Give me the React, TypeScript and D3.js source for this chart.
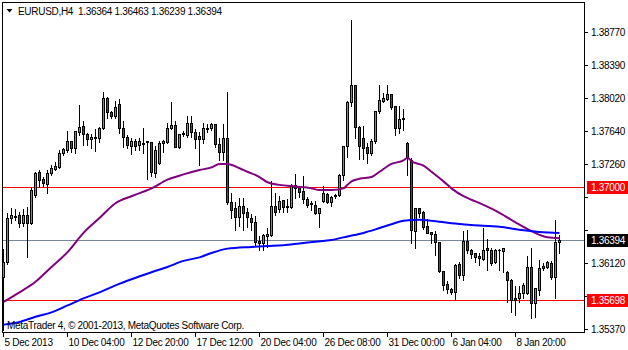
import React from "react";
import * as d3 from "d3";

// OHLC data (EURUSD H4), one entry per bar
const opens = [
  1.3596, 1.3614, 1.3664, 1.3666, 1.3667, 1.3658, 1.3668, 1.3658, 1.3690, 1.3717,
  1.3709, 1.3703, 1.3716, 1.3720, 1.3722, 1.3738, 1.3742, 1.3752, 1.3744, 1.3762,
  1.3769, 1.3760, 1.3755, 1.3757, 1.3756, 1.3767, 1.3801, 1.3785, 1.3781, 1.3795,
  1.3767, 1.3757, 1.3747, 1.3752, 1.3748, 1.3749, 1.3751, 1.3751, 1.3716, 1.3727,
  1.3750, 1.3751, 1.3767, 1.3771, 1.3745, 1.3760, 1.3759, 1.3773, 1.3762, 1.3758,
  1.3754, 1.3767, 1.3767, 1.3772, 1.3749, 1.3740, 1.3756, 1.3682, 1.3676, 1.3665,
  1.3678, 1.3671, 1.3664, 1.3659, 1.3638, 1.3636, 1.3643, 1.3645, 1.3678, 1.3674,
  1.3685, 1.3677, 1.3677, 1.3702, 1.3698, 1.3695, 1.3686, 1.3680, 1.3679, 1.3670,
  1.3683, 1.3691, 1.3682, 1.3689, 1.3690, 1.3713, 1.3746, 1.3797, 1.3816, 1.3768,
  1.3756, 1.3745, 1.3738, 1.3752, 1.3787, 1.3798, 1.3800, 1.3806, 1.3792, 1.3767,
  1.3777, 1.3750, 1.3730, 1.3649, 1.3676, 1.3671, 1.3655, 1.3648, 1.3646, 1.3637,
  1.3603, 1.3589, 1.3583, 1.3579, 1.3611, 1.3599, 1.3638, 1.3627, 1.3624, 1.3620,
  1.3617, 1.3630, 1.3628, 1.3614, 1.3627, 1.3626, 1.3602, 1.3593, 1.3573, 1.3573,
  1.3578, 1.3578, 1.3608, 1.3567, 1.3582, 1.3607, 1.3608, 1.3613, 1.3597, 1.36364,
];
const highs = [
  1.3630, 1.3671, 1.3677, 1.3675, 1.3672, 1.3675, 1.3678, 1.3701, 1.3718, 1.3720,
  1.3712, 1.3720, 1.3726, 1.3729, 1.3743, 1.3745, 1.3765, 1.3753, 1.3765, 1.3795,
  1.3776, 1.3762, 1.3761, 1.3767, 1.3769, 1.3809, 1.3804, 1.3788, 1.3799, 1.3802,
  1.3776, 1.3760, 1.3757, 1.3756, 1.3757, 1.3768, 1.3753, 1.3752, 1.3748, 1.3753,
  1.3754, 1.3774, 1.3798, 1.3776, 1.3761, 1.3765, 1.3782, 1.3782, 1.3767, 1.3764,
  1.3774, 1.3773, 1.3774, 1.3773, 1.3757, 1.3773, 1.3809, 1.3694, 1.3683, 1.3688,
  1.3688, 1.3677, 1.3670, 1.3667, 1.3645, 1.3647, 1.3654, 1.3707, 1.3694, 1.3690,
  1.3686, 1.3687, 1.3704, 1.3716, 1.3702, 1.3713, 1.3689, 1.3685, 1.3685, 1.3677,
  1.3702, 1.3694, 1.3690, 1.3693, 1.3716, 1.3748, 1.3799, 1.3892, 1.3818, 1.3771,
  1.3771, 1.3751, 1.3756, 1.3788, 1.3818, 1.3808, 1.3818, 1.3806, 1.3793, 1.3793,
  1.3790, 1.3752, 1.3734, 1.3677, 1.3676, 1.3673, 1.3664, 1.3648, 1.3650, 1.3638,
  1.3605, 1.3593, 1.3585, 1.3613, 1.3615, 1.3650, 1.3652, 1.3630, 1.3625, 1.3625,
  1.3654, 1.3641, 1.3631, 1.3630, 1.3630, 1.3631, 1.3605, 1.3595, 1.3587, 1.3587,
  1.3591, 1.3622, 1.3631, 1.3585, 1.3617, 1.3614, 1.3616, 1.3616, 1.3663, 1.36463,
];
const lows = [
  1.3536, 1.3611, 1.3658, 1.3662, 1.3654, 1.3655, 1.3619, 1.3657, 1.3688, 1.3700,
  1.3700, 1.3693, 1.3713, 1.3719, 1.3721, 1.3736, 1.3740, 1.3740, 1.3738, 1.3759,
  1.3748, 1.3748, 1.3744, 1.3741, 1.3751, 1.3766, 1.3778, 1.3778, 1.3778, 1.3761,
  1.3745, 1.3744, 1.3737, 1.3742, 1.3742, 1.3738, 1.3709, 1.3712, 1.3711, 1.3726,
  1.3740, 1.3750, 1.3766, 1.3745, 1.3744, 1.3758, 1.3757, 1.3757, 1.3744, 1.3725,
  1.3750, 1.3762, 1.3765, 1.3745, 1.3730, 1.3730, 1.3680, 1.3664, 1.3650, 1.3655,
  1.3650, 1.3654, 1.3650, 1.3633, 1.3627, 1.3627, 1.3631, 1.3643, 1.3667, 1.3671,
  1.3671, 1.3671, 1.3676, 1.3687, 1.3688, 1.3681, 1.3677, 1.3673, 1.3669, 1.3654,
  1.3682, 1.3681, 1.3678, 1.3687, 1.3689, 1.3707, 1.3734, 1.3792, 1.3756, 1.3732,
  1.3732, 1.3727, 1.3736, 1.3750, 1.3784, 1.3797, 1.3799, 1.3789, 1.3759, 1.3761,
  1.3765, 1.3713, 1.3635, 1.3630, 1.3665, 1.3651, 1.3647, 1.3635, 1.3622, 1.3602,
  1.3582, 1.3578, 1.3577, 1.3570, 1.3595, 1.3593, 1.3624, 1.3618, 1.3614, 1.3610,
  1.3616, 1.3605, 1.3610, 1.3612, 1.3605, 1.3602, 1.3568, 1.3556, 1.3553, 1.3568,
  1.3573, 1.3577, 1.3550, 1.3551, 1.3576, 1.3605, 1.3607, 1.3594, 1.3573, 1.36239,
];
const closes = [
  1.3614, 1.3664, 1.3667, 1.3665, 1.3658, 1.3668, 1.3658, 1.3696, 1.3716, 1.3707,
  1.3704, 1.3716, 1.3721, 1.3724, 1.3738, 1.3743, 1.3752, 1.3744, 1.3764, 1.3768,
  1.3760, 1.3755, 1.3757, 1.3756, 1.3767, 1.3801, 1.3785, 1.3781, 1.3791, 1.3767,
  1.3757, 1.3748, 1.3752, 1.3747, 1.3752, 1.3750, 1.3752, 1.3717, 1.3742, 1.3750,
  1.3752, 1.3767, 1.3771, 1.3745, 1.3760, 1.3761, 1.3773, 1.3762, 1.3754, 1.3754,
  1.3767, 1.3766, 1.3772, 1.3749, 1.3740, 1.3756, 1.3682, 1.3673, 1.3665, 1.3678,
  1.3670, 1.3665, 1.3659, 1.3637, 1.3636, 1.3645, 1.3646, 1.3678, 1.3671, 1.3683,
  1.3677, 1.3678, 1.3702, 1.3698, 1.3694, 1.3686, 1.3679, 1.3681, 1.3670, 1.3676,
  1.3693, 1.3682, 1.3688, 1.3690, 1.3713, 1.3746, 1.3797, 1.3816, 1.3768, 1.3746,
  1.3744, 1.3738, 1.3752, 1.3787, 1.3799, 1.3801, 1.3806, 1.3791, 1.3767, 1.3777,
  1.3778, 1.3734, 1.3650, 1.3676, 1.3670, 1.3654, 1.3647, 1.3646, 1.3637, 1.3603,
  1.3587, 1.3583, 1.3579, 1.3610, 1.3599, 1.3638, 1.3627, 1.3623, 1.3619, 1.3618,
  1.3628, 1.3627, 1.3612, 1.3627, 1.3628, 1.3630, 1.3593, 1.3570, 1.3570, 1.3578,
  1.3587, 1.3608, 1.3567, 1.3584, 1.3607, 1.3609, 1.3614, 1.3597, 1.3637, 1.36394,
];

// Moving averages read at selected bars
const maPurpleIdx = [0, 4, 8, 12, 16, 20, 24, 28, 32, 37, 41, 45, 49, 52, 54, 56, 59, 61, 64, 66, 69, 73, 77, 79, 82, 85, 86, 87, 89, 92, 94, 97, 100, 101, 102, 105, 107, 110, 112, 115, 117, 120, 124, 128, 132, 136, 139];
const maPurpleVals = [1.3568, 1.3579, 1.3591, 1.3608, 1.3625, 1.3647, 1.3664, 1.3681, 1.3689, 1.3698, 1.3708, 1.3714, 1.3719, 1.3722, 1.3726, 1.3726, 1.3721, 1.3717, 1.3711, 1.3705, 1.3702, 1.3700, 1.3698, 1.3696, 1.3696, 1.3698, 1.3702, 1.3706, 1.3709, 1.3711, 1.3717, 1.3726, 1.3730, 1.3733, 1.3729, 1.3724, 1.3717, 1.3706, 1.3698, 1.3689, 1.3685, 1.3679, 1.3670, 1.3659, 1.3649, 1.3642, 1.3641];
const maBlueIdx = [0, 4, 8, 12, 16, 20, 24, 28, 32, 37, 41, 45, 49, 52, 56, 62, 66, 70, 74, 78, 82, 86, 90, 93, 97, 100, 104, 107, 112, 117, 124, 130, 134, 139];
const maBlueVals = [1.3542, 1.3545, 1.3551, 1.3556, 1.3564, 1.3572, 1.3579, 1.3587, 1.3594, 1.3602, 1.3608, 1.3615, 1.3619, 1.3624, 1.3629, 1.3631, 1.3632, 1.3633, 1.3635, 1.3637, 1.3639, 1.3643, 1.3647, 1.3651, 1.3657, 1.3661, 1.3662, 1.3661, 1.3658, 1.3656, 1.3654, 1.3650, 1.3648, 1.3647];

const yTicks = [1.3877, 1.3839, 1.3802, 1.3764, 1.3726, 1.3688, 1.365, 1.3612, 1.3575, 1.3537];
const xTickIdx = [0, 16, 32, 48, 64, 80, 96, 112, 128];
const xTickLabels = ["5 Dec 2013", "10 Dec 04:00", "12 Dec 20:00", "17 Dec 12:00", "20 Dec 04:00", "26 Dec 08:00", "31 Dec 00:00", "6 Jan 04:00", "8 Jan 20:00"];
const redLevels = [1.37, 1.35698];
const bidLevel = 1.36394;
const headerText = "EURUSD,H4  1.36364 1.36463 1.36239 1.36394";
const copyright = "MetaTrader 4, \u00A9 2001-2013, MetaQuotes Software Corp.";

const W = 628;
const H = 350;
const L = 2.5, R = 584.5, T = 2.5, B = 332.5;
const FONT = "'Liberation Sans', Arial, sans-serif";

export default function App() {
  const x = d3.scaleLinear().domain([0, 139]).range([3.5, 559.5]);
  const y = d3.scaleLinear().domain([1.3537, 1.3877]).range([329, 32]);
  const py = (v: number) => Math.round(y(v)) + 0.5;

  const line = d3
    .line<[number, number]>()
    .x((d) => x(d[0]))
    .y((d) => y(d[1]))
    .curve(d3.curveMonotoneX);

  const purplePath = line(maPurpleIdx.map((d, k) => [d, maPurpleVals[k]] as [number, number])) || "";
  const bluePath = line(maBlueIdx.map((d, k) => [d, maBlueVals[k]] as [number, number])) || "";

  const fmt = d3.format(".5f");
  const txt = { fontFamily: FONT, fontSize: 10, letterSpacing: -0.3 } as React.CSSProperties;
  const labelLevels = [...redLevels, bidLevel];
  const hidden = (v: number) => labelLevels.some((l) => Math.abs(py(l) - py(v)) < 12);

  return (
    <div style={{ position: "absolute", left: 0, top: 0 }}>
      <svg width={W} height={H} style={{ display: "block", background: "#fff" }}>
        <rect x={0} y={0} width={W} height={H} fill="#fff" />
        {/* horizontal level lines */}
        {redLevels.map((v, k) => (
          <line key={"r" + k} x1={L} x2={R} y1={py(v)} y2={py(v)} stroke="#ff0000" strokeWidth={1} shapeRendering="crispEdges" />
        ))}
        <line x1={L} x2={R} y1={py(bidLevel)} y2={py(bidLevel)} stroke="#778899" strokeWidth={1} shapeRendering="crispEdges" />

        {/* candles */}
        <g shapeRendering="crispEdges">
          {opens.map((o, i) => {
            const c = closes[i];
            const cx = x(i);
            const top = py(Math.max(o, c));
            const bot = py(Math.min(o, c));
            const bull = c >= o;
            return (
              <g key={i}>
                <line x1={cx} x2={cx} y1={py(highs[i])} y2={py(lows[i]) + 0.5} stroke="#000" strokeWidth={1} />
                {bot - top < 1 ? (
                  <line x1={cx - 1.5} x2={cx + 1.5} y1={top} y2={top} stroke="#000" strokeWidth={1} />
                ) : (
                  <rect x={cx - 1} y={top} width={2} height={bot - top} fill={bull ? "#00e600" : "#e01010"} stroke="#000" strokeWidth={1} />
                )}
              </g>
            );
          })}
        </g>

        {/* moving averages */}
        <path d={purplePath} fill="none" stroke="#800080" strokeWidth={2} strokeLinejoin="round" />
        <path d={bluePath} fill="none" stroke="#0000ff" strokeWidth={2} strokeLinejoin="round" />

        {/* frame */}
        <rect x={L} y={T} width={R - L} height={B - T} fill="none" stroke="#000" strokeWidth={1} shapeRendering="crispEdges" />

        {/* y axis */}
        {yTicks.map((v, k) => (
          <g key={"yt" + k}>
            <line x1={R} x2={R + 3} y1={py(v)} y2={py(v)} stroke="#000" shapeRendering="crispEdges" />
            {!hidden(v) && (
              <text x={591} y={py(v)} dy="0.35em" style={txt} fill="#000">
                {fmt(v)}
              </text>
            )}
          </g>
        ))}

        {/* right price labels */}
        {redLevels.map((v, k) => (
          <g key={"rl" + k}>
            <rect x={587} y={py(v) - 6.5} width={41} height={13} fill="#ff0000" shapeRendering="crispEdges" />
            <text x={591} y={py(v)} dy="0.35em" style={txt} fill="#fff">
              {fmt(v)}
            </text>
          </g>
        ))}
        <rect x={587} y={py(bidLevel) - 6.5} width={41} height={13} fill="#000" shapeRendering="crispEdges" />
        <text x={591} y={py(bidLevel)} dy="0.35em" style={txt} fill="#fff">
          {fmt(bidLevel)}
        </text>

        {/* x axis */}
        {xTickIdx.map((d, k) => (
          <g key={"xt" + k}>
            <line x1={x(d)} x2={x(d)} y1={B} y2={B + 4} stroke="#000" shapeRendering="crispEdges" />
            <text x={x(d) + 1} y={342} dy="0.35em" style={txt} fill="#000">
              {xTickLabels[k]}
            </text>
          </g>
        ))}

        {/* header */}
        <path d="M6.5,9 L12.5,9 L9.5,12.5 Z" fill="#000" />
        <text x={18} y={11} dy="0.35em" style={txt} fill="#000" xmlSpace="preserve">
          {headerText}
        </text>

        {/* copyright */}
        <text x={7} y={325} dy="0.35em" style={txt} fill="#000">
          {copyright}
        </text>
      </svg>
    </div>
  );
}
